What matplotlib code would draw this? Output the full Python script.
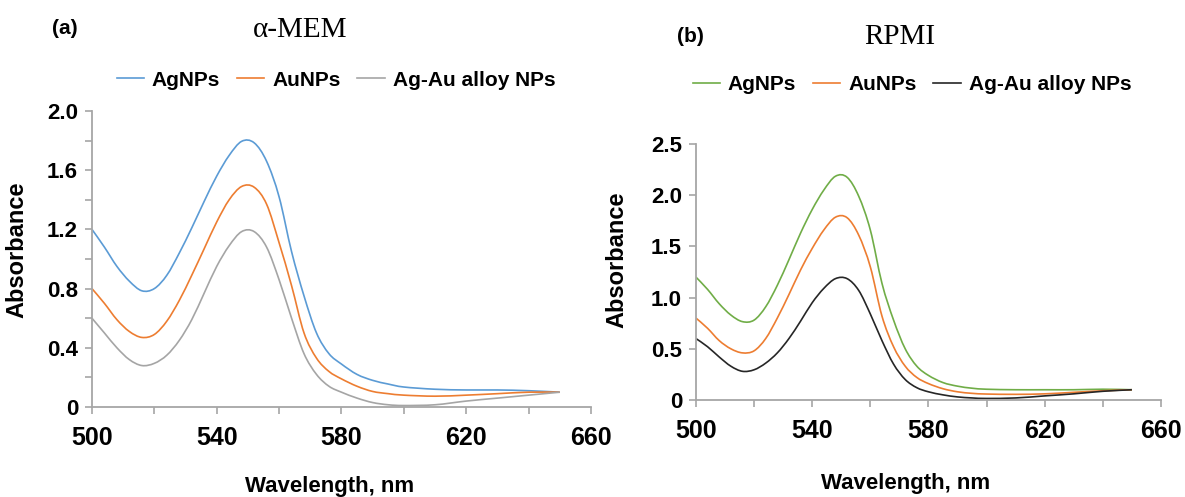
import matplotlib
matplotlib.use("Agg")
import matplotlib.pyplot as plt
from matplotlib.ticker import MultipleLocator, FixedLocator
from matplotlib.path import Path
from matplotlib.patches import PathPatch
from matplotlib.lines import Line2D

plt.rcParams['font.family'] = ['Liberation Sans', 'DejaVu Sans']
plt.rcParams['font.weight'] = 'bold'

# wavelength grid (nm)
wl = [500, 504, 508, 512, 516, 520, 524, 528, 532, 536, 540, 544, 548, 552, 556,
      560, 564, 568, 572, 576, 580, 585, 590, 595, 600, 610, 620, 630, 640, 650]

# (a) alpha-MEM
mem_ag = [1.20, 1.08, 0.95, 0.85, 0.785, 0.80, 0.89, 1.04, 1.21, 1.39, 1.56, 1.70, 1.795, 1.785, 1.66,
          1.42, 1.05, 0.75, 0.50, 0.36, 0.29, 0.22, 0.18, 0.155, 0.135, 0.12, 0.115, 0.115, 0.11, 0.10]
mem_au = [0.80, 0.70, 0.59, 0.51, 0.47, 0.49, 0.58, 0.72, 0.89, 1.07, 1.25, 1.40, 1.49, 1.485, 1.37,
          1.11, 0.82, 0.50, 0.33, 0.24, 0.19, 0.14, 0.105, 0.09, 0.08, 0.073, 0.08, 0.09, 0.10, 0.10]
mem_alloy = [0.60, 0.50, 0.40, 0.32, 0.28, 0.295, 0.35, 0.45, 0.59, 0.77, 0.95, 1.09, 1.185, 1.185, 1.08,
             0.86, 0.60, 0.36, 0.22, 0.14, 0.10, 0.06, 0.03, 0.015, 0.01, 0.015, 0.04, 0.06, 0.08, 0.10]

# (b) RPMI
rpmi_ag = [1.20, 1.08, 0.94, 0.83, 0.765, 0.78, 0.91, 1.12, 1.37, 1.63, 1.86, 2.05, 2.185, 2.175, 1.99,
           1.66, 1.14, 0.78, 0.50, 0.33, 0.24, 0.17, 0.135, 0.115, 0.105, 0.10, 0.10, 0.10, 0.105, 0.10]
rpmi_au = [0.80, 0.70, 0.58, 0.50, 0.46, 0.48, 0.60, 0.80, 1.03, 1.27, 1.48, 1.66, 1.785, 1.78, 1.61,
           1.30, 0.82, 0.52, 0.33, 0.22, 0.16, 0.11, 0.08, 0.065, 0.058, 0.055, 0.06, 0.075, 0.09, 0.10]
rpmi_alloy = [0.60, 0.52, 0.42, 0.33, 0.28, 0.295, 0.36, 0.46, 0.60, 0.77, 0.95, 1.09, 1.185, 1.185, 1.07,
              0.84, 0.58, 0.35, 0.20, 0.12, 0.08, 0.05, 0.03, 0.02, 0.015, 0.02, 0.04, 0.06, 0.085, 0.10]

labels = ['AgNPs', 'AuNPs', 'Ag-Au alloy NPs']
colors_a = ['#5B9BD5', '#ED7D31', '#A5A5A5']
colors_b = ['#70AD47', '#ED7D31', '#262626']
xticks = [500, 540, 580, 620, 660]

fig = plt.figure(figsize=(11.85, 4.97), dpi=100)
ax1 = fig.add_axes([0.0776, 0.1811, 0.4211, 0.5956])
ax2 = fig.add_axes([0.5873, 0.1952, 0.3924, 0.5151])


def smooth_line(ax, x, y, color):
    # smoothed line like excel's: catmull-rom segments drawn as bezier curves
    verts = [(x[0], y[0])]
    codes = [Path.MOVETO]
    n = len(x)
    for i in range(n - 1):
        i0 = max(i - 1, 0)
        i3 = min(i + 2, n - 1)
        c1 = (x[i] + (x[i + 1] - x[i0]) / 6, y[i] + (y[i + 1] - y[i0]) / 6)
        c2 = (x[i + 1] - (x[i3] - x[i]) / 6, y[i + 1] - (y[i3] - y[i]) / 6)
        verts += [c1, c2, (x[i + 1], y[i + 1])]
        codes += [Path.CURVE4] * 3
    ax.add_patch(PathPatch(Path(verts, codes), fill=False, edgecolor=color, lw=1.2))


def style(ax, ymax, ystep, yminor):
    for s in ['top', 'right']:
        ax.spines[s].set_visible(False)
    for s in ['left', 'bottom']:
        ax.spines[s].set_color('#A6A6A6')
        ax.spines[s].set_linewidth(1.3)
    ax.set_xlim(500, 660)
    ax.set_ylim(0, ymax)
    ax.xaxis.set_major_locator(FixedLocator(xticks))
    ax.xaxis.set_minor_locator(MultipleLocator(20))
    ax.yaxis.set_major_locator(MultipleLocator(ystep))
    if yminor:
        ax.yaxis.set_minor_locator(MultipleLocator(yminor))
    ax.tick_params(which='both', direction='out', color='#A6A6A6', width=1.2, length=5)
    ax.tick_params(axis='x', labelsize=18, pad=9)
    ax.tick_params(axis='y', labelsize=16, pad=5)
    ax.yaxis.set_major_formatter(lambda v, p: '0' if v == 0 else f'{v:.1f}')


for ax, ys, cols in [(ax1, [mem_ag, mem_au, mem_alloy], colors_a),
                     (ax2, [rpmi_ag, rpmi_au, rpmi_alloy], colors_b)]:
    for y, c in zip(ys, cols):
        smooth_line(ax, wl, y, c)

style(ax1, 2.0, 0.4, 0.2)
style(ax2, 2.5, 0.5, None)

for ax, lx, ly, xx, xy in [(ax1, -0.128, 0.53, 0.477, -0.233), (ax2, -0.146, 0.547, 0.45, -0.285)]:
    ax.set_ylabel('Absorbance', fontsize=17, fontweight='bold')
    ax.yaxis.set_label_coords(lx, ly)
    ax.set_xlabel('Wavelength, nm', fontsize=16, fontweight='bold')
    ax.xaxis.set_label_coords(xx, xy)

fig.text(65 / 1185, 1 - 28 / 497, '(a)', fontsize=15, fontweight='bold', ha='center', va='center')
fig.text(690 / 1185, 1 - 37 / 497, '(b)', fontsize=15, fontweight='bold', ha='center', va='center')
fig.text(300 / 1185, 1 - 30 / 497, 'α-MEM', fontsize=21, family='Liberation Serif',
         fontweight='normal', ha='center', va='center')
fig.text(900 / 1185, 1 - 37 / 497, 'RPMI', fontsize=21, family='Liberation Serif',
         fontweight='normal', ha='center', va='center')

for cols, cx, cy in [(colors_a, 336, 80), (colors_b, 912, 85)]:
    h = [Line2D([], [], color=c, lw=1.2) for c in cols]
    fig.legend(h, labels, loc='center', bbox_to_anchor=(cx / 1185, 1 - cy / 497), ncol=3,
               frameon=False, handlelength=1.3, handletextpad=0.4,
               columnspacing=0.8, prop={'weight': 'bold', 'size': 15})

fig.savefig('out.png', dpi=100)
